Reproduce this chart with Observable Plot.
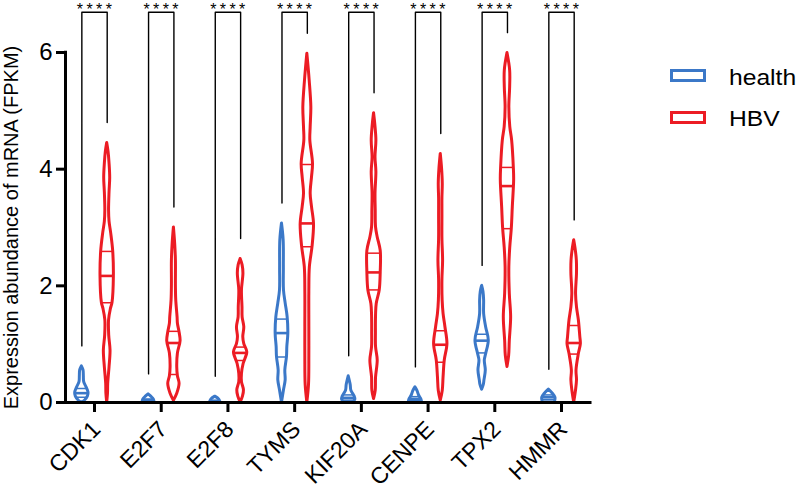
<!DOCTYPE html>
<html><head><meta charset="utf-8">
<script src="https://cdn.jsdelivr.net/npm/d3@7"></script>
<script src="https://cdn.jsdelivr.net/npm/@observablehq/plot@0.6"></script>
<style>
body{margin:0;background:#fff;font-family:"Liberation Sans",Arial,sans-serif;}
#wrap{position:relative;width:800px;height:491px;overflow:hidden;}
.sw{position:absolute;left:670px;width:30px;height:7px;border:3px solid;}
.lt{position:absolute;left:729px;font-size:22px;line-height:22px;color:#000;white-space:nowrap;transform:scaleX(1.12);transform-origin:left center;}
</style></head><body><div id="wrap"></div>
<script>
const genes = ["CDK1","E2F7","E2F8","TYMS","KIF20A","CENPE","TPX2","HMMR"];
const groups = ["health","HBV"];
const colors = ["#3b78c8","#ec1c24"];
const sigLabels = ["****","****","****","****","****","****","****","****"];
const yTicks = [0,2,4,6];
const yLabel = "Expression abundance of mRNA (FPKM)";

// violin outlines: [value, relative density width]
const healthProfiles = [
  [[0,0],[0.03,0.45],[0.1,0.9],[0.17,1.0],[0.26,0.7],[0.35,0.35],[0.45,0.3],[0.55,0.25],[0.62,0]],
  [[0,0.9],[0.05,0.8],[0.1,0.4],[0.14,0]],
  [[0,0.8],[0.05,0.6],[0.1,0]],
  [[0,0],[0.21,0.3],[0.38,0.55],[0.55,0.5],[0.78,0.75],[0.95,0.8],[1.18,0.95],[1.46,0.85],[1.7,0.55],[1.92,0.3],[2.3,0.28],[2.78,0.25],[3.07,0]],
  [[0,0.7],[0.05,1.0],[0.1,0.9],[0.2,0.4],[0.3,0.3],[0.45,0]],
  [[0,1.0],[0.05,0.9],[0.12,0.55],[0.2,0.3],[0.26,0]],
  [[0.22,0],[0.3,0.25],[0.38,0.35],[0.55,0.55],[0.72,0.4],[0.83,0.6],[1.06,1.0],[1.29,0.6],[1.52,0.3],[1.75,0.3],[1.9,0.2],[2.0,0]],
  [[0,0.9],[0.08,1.0],[0.15,0.6],[0.22,0]]
];
const hbvProfiles = [
  [[0,0],[0.15,0.12],[0.32,0.15],[0.6,0.35],[0.89,0.5],[1.15,0.3],[1.41,0.28],[1.6,0.55],[1.71,0.8],[2.15,1.0],[2.59,0.9],[2.9,0.6],[3.1,0.35],[3.29,0.28],[3.6,0.35],[3.85,0.45],[4.1,0.35],[4.3,0.2],[4.45,0]],
  [[0.03,0],[0.15,0.5],[0.32,0.85],[0.45,0.6],[0.6,0.5],[0.84,0.6],[1.05,1.0],[1.2,0.85],[1.35,0.6],[1.46,0.55],[1.75,0.35],[2.0,0.3],[2.43,0.3],[2.7,0.2],[3.0,0]],
  [[0,0],[0.1,0.35],[0.21,0.5],[0.35,0.2],[0.49,0.2],[0.66,0.45],[0.86,1.0],[1.0,0.55],[1.12,0.4],[1.29,0.55],[1.46,0.3],[1.63,0.28],[1.92,0.2],[2.21,0.42],[2.35,0.3],[2.46,0]],
  [[0,0],[0.3,0.25],[0.8,0.3],[1.3,0.3],[1.9,0.3],[2.32,0.38],[2.69,0.8],[3.06,1.0],[3.35,0.7],[3.58,0.5],[3.86,0.7],[4.09,0.85],[4.49,0.45],[4.72,0.5],[5.06,0.6],[5.52,0.35],[5.98,0]],
  [[0.06,0],[0.2,0.25],[0.43,0.3],[0.72,0.55],[0.95,0.3],[1.18,0.28],[1.5,0.3],[1.69,0.4],[1.92,0.85],[2.23,1.0],[2.6,1.0],[2.83,0.55],[3.0,0.3],[3.3,0.25],[3.58,0.22],[3.95,0.35],[4.2,0.22],[4.49,0.35],[4.75,0.2],[4.96,0]],
  [[0.03,0],[0.2,0.3],[0.43,0.42],[0.72,0.6],[1.0,1.0],[1.29,0.7],[1.52,0.42],[1.75,0.28],[2.1,0.25],[2.43,0.35],[2.8,0.25],[3.2,0.25],[3.5,0.25],[3.75,0.3],[4.0,0.2],[4.26,0]],
  [[0.61,0],[0.8,0.25],[1.06,0.35],[1.46,0.55],[1.86,0.35],[2.32,0.28],[2.66,0.42],[2.98,0.65],[3.35,0.8],[3.81,1.0],[4.03,0.95],[4.49,0.7],[4.72,0.42],[5.06,0.28],[5.4,0.4],[5.69,0.4],[5.99,0]],
  [[0,0],[0.21,0.28],[0.38,0.42],[0.55,0.35],[0.83,0.7],[1.0,1.0],[1.12,0.92],[1.41,0.7],[1.63,0.42],[1.86,0.28],[2.21,0.42],[2.43,0.4],[2.6,0.25],[2.78,0]]
];
// [Q1, median, Q3]
const healthQuartiles = [[0.09,0.16,0.24],[0.02,0.04,0.06],[0.01,0.02,0.04],[0.78,1.19,1.43],[0.04,0.08,0.13],[0.03,0.06,0.1],[0.85,1.06,1.17],[0.05,0.09,0.13]];
const hbvQuartiles = [[1.71,2.17,2.59],[0.48,1.02,1.22],[0.72,0.85,0.95],[2.67,3.07,4.08],[1.93,2.23,2.56],[0.69,0.99,1.23],[2.98,3.71,4.03],[0.83,1.02,1.32]];

// layout constants
const W = 0.1, OFF = 0.19, GAP = 0.35, TOP = 6.69;
const X0 = -0.435, X1 = 7.457;

function widthAt(prof, y){
  for (let j = 1; j < prof.length; j++){
    const [y0,w0] = prof[j-1], [y1,w1] = prof[j];
    if (y <= y1) return y1 === y0 ? w1 : w0 + (w1-w0)*(y-y0)/(y1-y0);
  }
  return 0;
}

const vRows = [], qRows = [], brRows = [];
genes.forEach((g,i) => {
  [healthProfiles[i], hbvProfiles[i]].forEach((prof,k) => {
    const c = i + (k ? OFF : -OFF);
    prof.forEach(([y,w]) => vRows.push({key: g+"-"+k, group: groups[k], y, x1: c - w*W, x2: c + w*W}));
    const q = (k ? hbvQuartiles : healthQuartiles)[i];
    q.forEach((y,j) => {
      const w = widthAt(prof, y);
      qRows.push({group: groups[k], y, med: j === 1, x1: c - w*W, x2: c + w*W});
    });
  });
  const hTop = healthProfiles[i].at(-1)[0], bTop = hbvProfiles[i].at(-1)[0];
  brRows.push({g, x: i-OFF, y: hTop+GAP}, {g, x: i-OFF, y: TOP}, {g, x: i+OFF, y: TOP}, {g, x: i+OFF, y: bTop+GAP});
});

const chart = Plot.plot({
  width: 800, height: 491,
  marginLeft: 65, marginRight: 208.5, marginTop: 52, marginBottom: 89,
  style: {fontFamily: "'Liberation Sans', Arial, sans-serif", fontSize: "22px", color: "#000", background: "#fff", overflow: "visible"},
  x: {type: "linear", domain: [X0, X1], axis: null},
  y: {domain: [0, 6], axis: null},
  color: {domain: groups, range: colors},
  marks: [
    Plot.line(brRows, {x: "x", y: "y", z: "g", stroke: "#000", strokeWidth: 1.4}),
    Plot.text(genes.map((g,i) => ({i, s: sigLabels[i]})), {x: "i", y: () => TOP, text: "s", dy: -2, dx: 1.5, fontSize: 16}),
    Plot.areaX(vRows, {y: "y", x1: "x1", x2: "x2", z: "key", fill: "#fff", stroke: "group", strokeWidth: 3, curve: "catmull-rom"}),
    Plot.ruleY(qRows.filter(d => !d.med), {y: "y", x1: "x1", x2: "x2", stroke: "group", strokeWidth: 1.5}),
    Plot.ruleY(qRows.filter(d => d.med), {y: "y", x1: "x1", x2: "x2", stroke: "group", strokeWidth: 2.6}),
    Plot.ruleX([X0], {y1: 0, y2: 6.02, strokeWidth: 3}),
    Plot.ruleY([0], {x1: X0, x2: X1, strokeWidth: 3}),
    Plot.axisY(yTicks, {tickSize: 9, strokeWidth: 3, fontSize: 24, tickPadding: 4, tickFormat: d => String(d), label: null}),
    Plot.axisX(d3.range(genes.length), {tickFormat: () => "", tickSize: 10, strokeWidth: 3, label: null}),
    Plot.axisX(d3.range(genes.length), {tickFormat: i => genes[i], tickRotate: -45, tickSize: 0, fontSize: 23, tickPadding: 14, dx: 2, dy: 9, label: null}),
    Plot.text([yLabel], {frameAnchor: "left", text: d => d, rotate: -90, textAnchor: "middle", dx: -54, fontSize: 20})
  ]
});
const wrap = document.getElementById("wrap");
wrap.appendChild(chart);
const sel = d3.select(chart);
sel.selectAll('g[aria-label="y-axis tick label"] text').style("font-size", "24px");
sel.selectAll('g[aria-label="x-axis tick label"] text').style("font-size", "23px");
sel.selectAll('text').filter(function(){ return this.textContent === "****"; }).style("letter-spacing", "3.4px").style("font-size", "16px");
const legTops = [69, 111], textTops = [67, 108];
groups.forEach((g,k) => {
  const sw = document.createElement("div");
  sw.className = "sw"; sw.style.top = legTops[k] + "px"; sw.style.borderColor = colors[k];
  const t = document.createElement("div");
  t.className = "lt"; t.style.top = textTops[k] + "px"; t.textContent = g;
  wrap.appendChild(sw); wrap.appendChild(t);
});
</script></body></html>
